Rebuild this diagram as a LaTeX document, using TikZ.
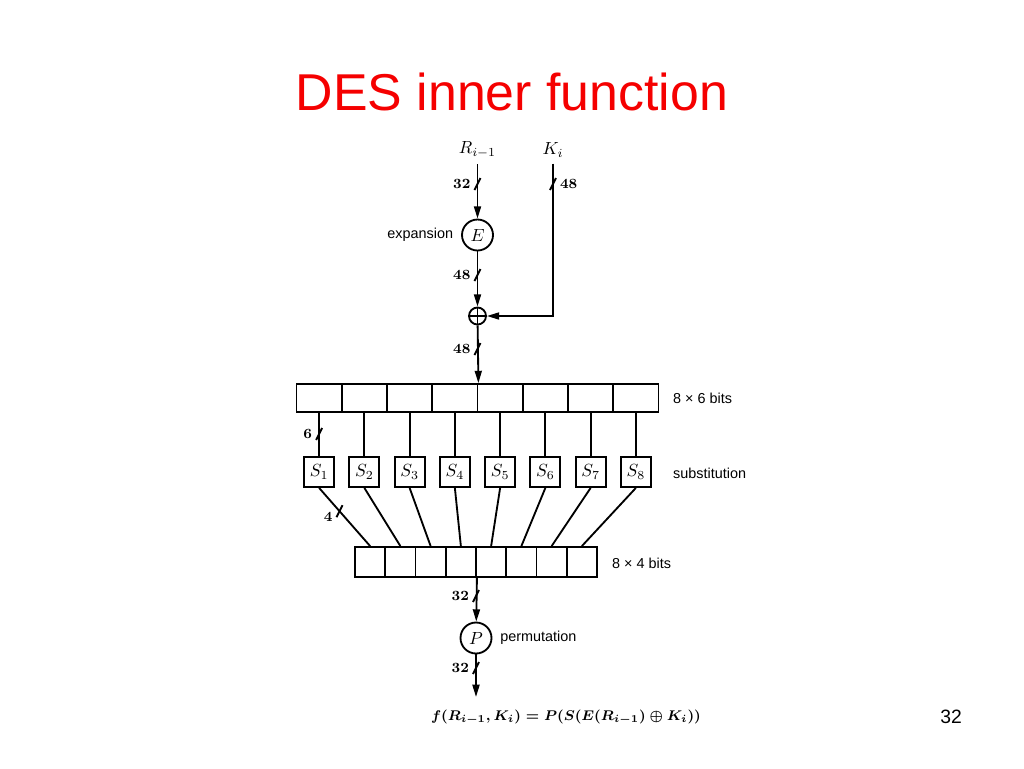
\documentclass[tikz,border=0pt]{standalone}
\usepackage{amsmath}
\usepackage{fontspec}
\usepackage{tikz}
\usetikzlibrary{arrows.meta}
\newfontfamily\labelfont{Liberation Sans}
\definecolor{titlered}{RGB}{245,0,0}

% bus width mark: slash across a line plus its number
\newcommand{\busmark}[3]{%
  \draw[sig] #1 +(-3,6) -- +(3,-6);
  \node[num, #2] at #1 {#3};}

\tikzset{
  sig/.style={line width=1.05pt},
  arr/.style={sig, -{Triangle[length=7pt,width=4pt]}},
  op/.style={draw, circle, line width=1.05pt, inner sep=0pt, minimum size=0.62cm},
  xorop/.style={draw, circle, line width=1.05pt, inner sep=0pt, minimum size=0.34cm},
  cell/.style={draw, line width=1.05pt, inner sep=0pt, minimum width=0.905cm, minimum height=0.56cm},
  sbox/.style={draw, line width=1.05pt, inner sep=0pt, minimum size=0.6cm},
  bcell/.style={draw, line width=1.05pt, inner sep=0pt, minimum width=0.605cm, minimum height=0.6cm},
  tag/.style={font=\labelfont\fontsize{8.2}{10}\selectfont},
  num/.style={font=\bfseries\fontsize{8}{9}\selectfont, inner sep=3.8pt}
}

\begin{document}
\begin{tikzpicture}[x=0.02cm, y=-0.02cm]
    \useasboundingbox (0,0) rectangle (1024,768);

    % Title
    \node[text=titlered, font=\labelfont\fontsize{29.5}{36}\selectfont] (title) at (512,92) {DES inner function};

    % Inputs
    \node (Rin) at (477.5,150) {$R_{i-1}$};
    \node (Kin) at (553,150) {$K_i$};

    % Expansion and key mixing
    \node[op] (E) at (477.5,235) {$E$};
    \node[tag, left=1pt] (expl) at (E.west) {expansion};
    \node[xorop] (X) at (477.5,316) {};
    \draw[sig] (X.north) -- (X.south) (X.west) -- (X.east);

    \draw[arr] (Rin) -- (E);
    \draw[arr] (E) -- (X);
    \draw[arr] (Kin) |- (X);
    \busmark{(477.5,184)}{left}{32}
    \busmark{(553,184)}{right}{48}
    \busmark{(477.5,275)}{left}{48}

    % 8 x 6 bits register
    \foreach \i in {1,...,8}
        \node[cell] (t\i) at ({296.5+45.25*(\i-0.5)},398) {};
    \node[tag, anchor=west] (toplab) at (667,398) {8 × 6 bits};
    \draw[arr] (X) -- (t4.north east);
    \busmark{(477.5,349)}{left}{48}

    % S-boxes
    \foreach \i in {1,...,8} {
        \node[sbox] (s\i) at ({296.5+45.25*(\i-0.5)},472) {$S_{\i}$};
        \draw[sig] (t\i.south) -- (s\i.north);
    }
    \node[tag, anchor=west] (sublab) at (667,473) {substitution};
    \busmark{(t1.south |- 0,434)}{left}{6}

    % 8 x 4 bits register
    \foreach \i in {1,...,8} {
        \node[bcell] (b\i) at ({355+30.25*(\i-0.5)},562) {};
        \draw[sig] (s\i.south) -- (b\i.north) coordinate[pos=0.4] (m\i);
    }
    \node[tag, anchor=west] (botlab) at (606,563) {8 × 4 bits};
    \busmark{(m1)}{left, yshift=-0.12cm}{4}

    % Permutation
    \node[op] (P) at (476,638) {$P$};
    \node[tag, right=1pt] (perml) at (P.east) {permutation};
    \coordinate (out) at (476,697);
    \draw[arr] (b4.south east) -- (P);
    \draw[arr] (P) -- (out);
    \busmark{(476,596)}{left}{32}
    \busmark{(476,668)}{left}{32}

    % Result and page number
    \node[font=\boldmath\fontsize{7.9}{10}\selectfont] (res) at (566,717) {$f(R_{i-1},K_i)=P(S(E(R_{i-1})\oplus K_i))$};
    \node[font=\labelfont\fontsize{11}{13}\selectfont] (page) at (951,717) {32};
\end{tikzpicture}
\end{document}
